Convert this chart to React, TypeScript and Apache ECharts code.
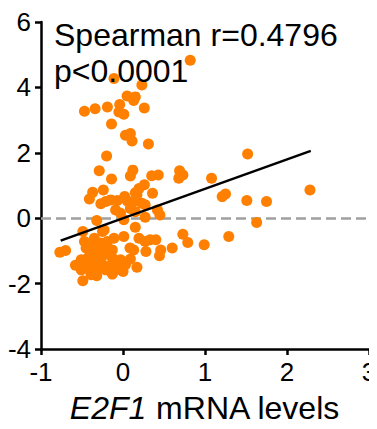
import React, { useEffect, useRef } from "react";
import * as echarts from "echarts";

const xTicks = { min: -1, max: 3, interval: 1 };
const yTicks = { min: -4, max: 6, interval: 2 };

const upperPoints: number[][] = [
  [0.82, 4.83], [-0.11, 4.27], [0.23, 4.07], [0.05, 3.74], [0.15, 3.71], [0.13, 3.6],
  [-0.47, 3.27], [-0.34, 3.35], [-0.19, 3.4], [-0.04, 3.48], [-0.05, 3.25], [0.01, 3.18],
  [0.26, 3.37], [-0.14, 2.88], [0.03, 2.54], [0.09, 2.59], [0.11, 2.36], [0.31, 2.27],
  [-0.2, 1.9], [1.52, 1.96], [-0.29, 1.45], [0.12, 1.47], [0.09, 1.29], [-0.14, 1.2],
  [0.35, 1.3], [0.43, 1.32], [0.69, 1.45], [0.73, 1.32], [0.68, 1.22], [1.08, 1.22],
  [0.26, 1.02], [0.195, 0.91], [0.15, 0.78], [-0.37, 0.79], [-0.24, 0.86], [-0.41, 0.59],
  [0.36, 0.76], [1.21, 0.66], [1.25, 0.74], [1.51, 0.54], [1.75, 0.51], [2.28, 0.86],
];

const middlePoints: number[][] = [
  [-0.27, 0.44], [-0.21, 0.51], [-0.15, 0.56], [-0.07, 0.54], [0.02, 0.66], [0.05, 0.53],
  [0.23, 0.46], [0.27, 0.41], [-0.09, 0.25], [-0.03, 0.15], [0.09, 0.3], [0.15, 0.2],
  [0.42, 0.25], [0.45, 0.1], [0.27, 0.03], [0.01, -0.05], [-0.32, -0.07], [1.63, -0.13],
  [0.15, -0.28], [-0.25, -0.41], [-0.49, -0.41], [0.73, -0.49], [1.29, -0.56], [-0.11, -0.61],
  [0.01, -0.56], [0.195, -0.61], [0.4, -0.66], [0.79, -0.74], [0.99, -0.81], [-0.47, -0.71],
  [-0.35, -0.61], [0.27, -0.71], [-0.77, -1.04], [-0.7, -0.99], [0.6, -0.91], [0.085, -0.91],
  [0.46, -0.97], [0.28, -1.02], [0.445, -1.15], [0.13, 0.51], [0.17, 0.72],
];

const clusterPoints: number[][] = [
  [-0.45, -0.91], [-0.37, -0.86], [-0.29, -0.86], [-0.21, -0.91], [-0.13, -0.97],
  [-0.39, -1.12], [-0.31, -1.17], [-0.23, -1.12], [-0.13, -1.22], [-0.03, -1.27],
  [0.09, -1.25], [-0.58, -1.44], [-0.51, -1.27], [-0.45, -1.37], [-0.33, -1.37],
  [-0.25, -1.42], [-0.17, -1.47], [-0.07, -1.39], [0.03, -1.42], [-0.49, -1.91],
  [-0.39, -1.73], [-0.32, -1.76], [-0.13, -1.71], [0.0, -1.63], [-0.21, -1.58],
  [-0.51, -1.58], [-0.41, -1.58], [-0.29, -1.52], [-0.35, -1.07], [-0.17, -1.07],
  [-0.27, -0.76], [-0.19, -0.71], [-0.43, -1.22], [0.13, -0.97], [0.33, -0.66],
  [-0.09, -1.58], [-0.23, -0.36], [0.17, -1.5], [-0.31, -1.01],
];

const regressionSlope = 0.9;
const regressionIntercept = 0.0;
const regressionXRange = [-0.76, 2.29];

const statLines = ["Spearman r=0.4796", "p<0.0001"];
const xAxisName = ["E2F1", " mRNA levels"];

const FONT = "Liberation Sans, Arial, sans-serif";

export default function App() {
  const ref = useRef<HTMLDivElement>(null);
  useEffect(() => {
    if (!ref.current) return;
    const chart = echarts.init(ref.current, null, { renderer: "svg" });
    const points = [...upperPoints, ...middlePoints, ...clusterPoints];
    const regLine = regressionXRange.map((x) => [x, regressionIntercept + regressionSlope * x]);
    const axisCommon = {
      axisLine: { show: true, onZero: false, lineStyle: { color: "#000", width: 2.5 } },
      axisTick: { show: true, inside: false, length: 6, lineStyle: { color: "#000", width: 2.5 } },
      splitLine: { show: false },
    };
    chart.setOption({
      animation: false,
      grid: { left: 41, right: 8, top: 22, bottom: 80, containLabel: false, outerBoundsMode: "none" },
      xAxis: {
        type: "value",
        ...xTicks,
        ...axisCommon,
        axisLabel: { color: "#000", fontSize: 26, fontFamily: FONT, margin: 10 },
        name: `{i|${xAxisName[0]}}{n|${xAxisName[1]}}`,
        nameLocation: "middle",
        nameGap: 43,
        nameTextStyle: {
          rich: {
            i: { fontSize: 32, fontStyle: "italic", fontFamily: FONT, color: "#000" },
            n: { fontSize: 32, fontFamily: FONT, color: "#000" },
          },
        },
      },
      yAxis: {
        type: "value",
        ...yTicks,
        ...axisCommon,
        axisLabel: { color: "#000", fontSize: 26, fontFamily: FONT, margin: 10 },
      },
      graphic: [
        {
          type: "text",
          left: 54,
          top: 17,
          z: 100,
          style: {
            text: statLines.join("\n"),
            fontSize: 32,
            lineHeight: 36,
            fontFamily: FONT,
            fill: "#000",
          },
        },
      ],
      series: [
        {
          type: "scatter",
          data: points,
          symbolSize: 11,
          itemStyle: { color: "#ff8000", opacity: 1 },
          z: 3,
          markLine: {
            silent: true,
            symbol: "none",
            label: { show: false },
            lineStyle: { color: "#a0a0a0", width: 2.5, type: [10, 5] },
            data: [{ yAxis: 0 }],
            z: 1,
          },
        },
        {
          type: "line",
          data: regLine,
          symbol: "none",
          lineStyle: { color: "#000", width: 2.5 },
          z: 4,
        },
      ],
    });
    return () => chart.dispose();
  }, []);
  return <div ref={ref} style={{ width: 377, height: 429, margin: -8 }} />;
}
